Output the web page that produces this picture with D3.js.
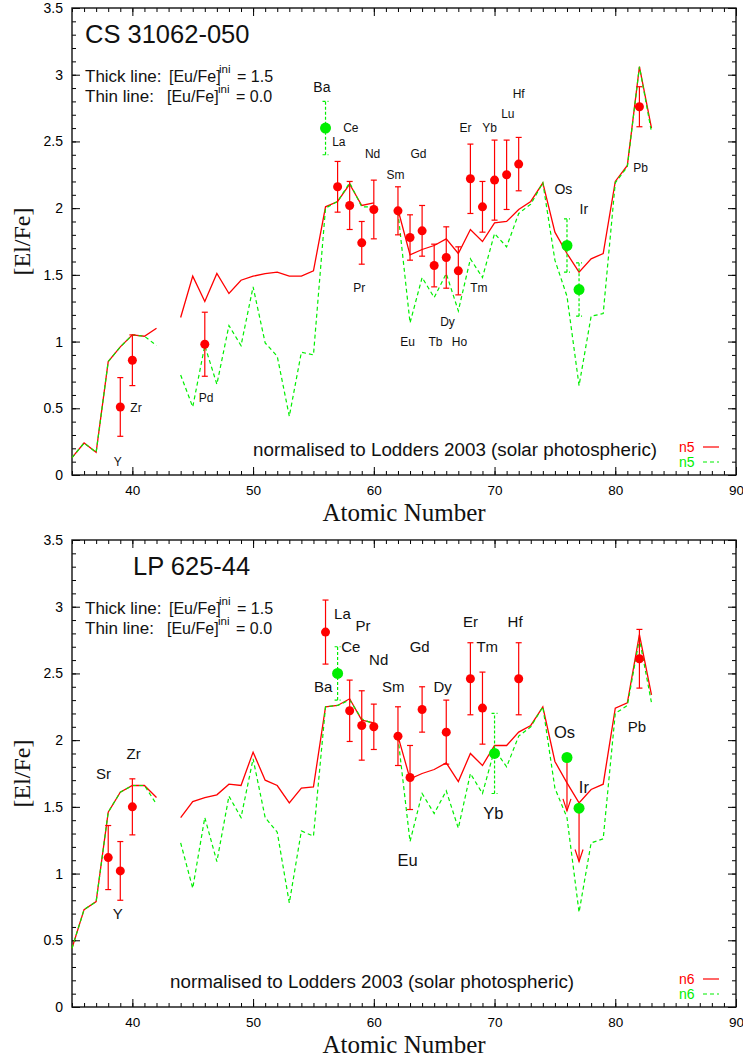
<!DOCTYPE html>
<html>
<head>
<meta charset="utf-8">
<script src="https://cdn.jsdelivr.net/npm/d3@7"></script>
<style>
  body { margin: 0; background: #fff; }
  svg { display: block; font-family: 'Liberation Sans', Arial, sans-serif; }
</style>
</head>
<body>
<svg width="743" height="1062"></svg>
<script>
// Atomic numbers of the model curves (Tc = 43 and Pm = 61 have no model value)
let modelZ = [35, 36, 37, 38, 39, 40, 41, 42, 43, 44, 45, 46, 47, 48, 49, 50, 51, 52, 53, 54, 55, 56, 57, 58, 59,
              60, 61, 62, 63, 64, 65, 66, 67, 68, 69, 70, 71, 72, 73, 74, 75, 76, 77, 78, 79, 80, 81, 82, 83];

// CS 31062-050 model, [Eu/Fe]ini = 1.5 (thick, red) and 0.0 (thin, green)
let csThick = [0.13, 0.24, 0.17, 0.85, 0.96, 1.05, 1.04, 1.10, null, 1.18, 1.49, 1.30, 1.51, 1.36, 1.46, 1.49, 1.51, 1.52, 1.49, 1.49, 1.53, 2.01, 2.05, 2.18, 2.02,
               2.04, null, 1.99, 1.65, 1.69, 1.72, 1.77, 1.66, 1.84, 1.75, 1.89, 1.90, 1.99, 2.05, 2.19, 1.82, 1.66, 1.52, 1.62, 1.66, 2.20, 2.32, 3.06, 2.60];
let csThin  = [0.13, 0.24, 0.17, 0.85, 0.96, 1.05, 1.04, 0.97, null, 0.75, 0.51, 0.97, 0.68, 1.12, 0.97, 1.41, 0.99, 0.89, 0.44, 0.92, 0.90, 2.00, 2.05, 2.19, 2.01,
               2.01, null, 1.97, 1.14, 1.48, 1.33, 1.51, 1.23, 1.62, 1.48, 1.81, 1.71, 1.96, 2.03, 2.19, 1.61, 1.34, 0.67, 1.19, 1.21, 2.19, 2.31, 3.06, 2.57];

// CS 31062-050 observations ('a' = red points, 'b' = green points)
let csObsZ     = [39, 40, 46, 56, 57, 58, 59, 60, 62, 63, 64, 65, 66, 67, 68, 69, 70, 71, 72, 76, 77, 82];
let csObsValue = [0.51, 0.86, 0.98, 2.60, 2.16, 2.02, 1.74, 1.99, 1.98, 1.78, 1.83, 1.57, 1.63, 1.53, 2.22, 2.01, 2.21, 2.25, 2.33, 1.72, 1.39, 2.76];
let csObsError = [0.22, 0.19, 0.24, 0.20, 0.19, 0.18, 0.16, 0.22, 0.18, 0.17, 0.19, 0.16, 0.23, 0.18, 0.26, 0.19, 0.30, 0.26, 0.20, 0.20, 0.20, 0.15];
let csObsSet   = ['a', 'a', 'a', 'b', 'a', 'a', 'a', 'a', 'a', 'a', 'a', 'a', 'a', 'a', 'a', 'a', 'a', 'a', 'a', 'b', 'b', 'a'];

// CS 31062-050 element labels, placed in data coordinates
let csLabel  = ['Y', 'Zr', 'Pd', 'Ba', 'La', 'Ce', 'Pr', 'Nd', 'Sm', 'Eu', 'Gd', 'Tb', 'Dy', 'Ho', 'Er', 'Tm', 'Yb', 'Lu', 'Hf', 'Os', 'Ir', 'Pb'];
let csLabelZ = [38.8, 40.3, 46.1, 55.7, 57.1, 58.1, 58.8, 59.9, 61.8, 62.8, 63.7, 65.1, 66.1, 67.1, 67.6, 68.7, 69.6, 71.1, 72.0, 75.7, 77.4, 82.1];
let csLabelV = [0.10, 0.50, 0.58, 2.91, 2.50, 2.60, 1.40, 2.41, 2.25, 1.00, 2.41, 1.00, 1.15, 1.00, 2.60, 1.40, 2.60, 2.71, 2.86, 2.14, 1.99, 2.30];

// LP 625-44 model, [Eu/Fe]ini = 1.5 (thick, red) and 0.0 (thin, green)
let lpThick = [0.44, 0.73, 0.79, 1.46, 1.61, 1.66, 1.66, 1.57, null, 1.42, 1.54, 1.57, 1.59, 1.67, 1.66, 1.91, 1.70, 1.66, 1.53, 1.64, 1.65, 2.25, 2.26, 2.31, 2.15,
               2.13, null, 2.03, 1.71, 1.75, 1.78, 1.83, 1.69, 1.90, 1.81, 1.96, 1.96, 2.06, 2.11, 2.25, 1.84, 1.68, 1.53, 1.63, 1.67, 2.24, 2.28, 2.79, 2.34];
let lpThin  = [0.44, 0.73, 0.79, 1.46, 1.61, 1.66, 1.66, 1.52, null, 1.23, 0.89, 1.42, 1.09, 1.58, 1.42, 1.86, 1.42, 1.31, 0.78, 1.32, 1.28, 2.25, 2.26, 2.30, 2.16,
               2.12, null, 2.02, 1.24, 1.60, 1.45, 1.62, 1.34, 1.75, 1.60, 1.93, 1.80, 2.03, 2.10, 2.25, 1.64, 1.42, 0.71, 1.23, 1.26, 2.20, 2.26, 2.76, 2.28];

// LP 625-44 observations (null error = upper limit)
let lpObsZ     = [38, 39, 40, 56, 57, 58, 59, 60, 62, 63, 64, 66, 68, 69, 70, 72, 76, 77, 82];
let lpObsValue = [1.12, 1.02, 1.50, 2.81, 2.50, 2.22, 2.11, 2.10, 2.03, 1.72, 2.23, 2.06, 2.46, 2.24, 1.90, 2.46, 1.87, 1.49, 2.61];
let lpObsError = [0.24, 0.22, 0.21, 0.24, 0.20, 0.23, 0.26, 0.17, 0.22, 0.24, 0.17, 0.24, 0.27, 0.27, 0.30, 0.27, null, null, 0.22];
let lpObsSet   = ['a', 'a', 'a', 'a', 'b', 'a', 'a', 'a', 'a', 'a', 'a', 'a', 'a', 'a', 'b', 'a', 'b', 'b', 'a'];

// LP 625-44 element labels
let lpLabel  = ['Sr', 'Zr', 'Y', 'La', 'Pr', 'Ce', 'Nd', 'Ba', 'Sm', 'Gd', 'Dy', 'Er', 'Tm', 'Hf', 'Yb', 'Eu', 'Os', 'Ir', 'Pb'];
let lpLabelZ = [37.6, 40.1, 38.8, 57.4, 59.1, 58.1, 60.4, 55.8, 61.6, 63.8, 65.7, 68.0, 69.4, 71.7, 69.9, 62.8, 75.8, 77.4, 81.8];
let lpLabelV = [1.75, 1.90, 0.70, 2.95, 2.86, 2.70, 2.60, 2.40, 2.40, 2.70, 2.40, 2.89, 2.70, 2.89, 1.45, 1.10, 2.06, 1.65, 2.10];

// Axis ticks
let xTicks = [40, 50, 60, 70, 80, 90];
let yTicks = [0, 0.5, 1, 1.5, 2, 2.5, 3, 3.5];

// Select the svg element
let svg = d3.select('svg');
let margin = { left: 72, right: 7 };
let width = +svg.attr('width');
let red = '#ff0000';
let green = '#00ee00';
let arrowLength = 0.4;

function drawPanel(p) {
    let g = svg.append('g');

    let x = d3.scaleLinear().domain([35, 90]).range([margin.left, width - margin.right]);
    let y = d3.scaleLinear().domain([0, 3.5]).range([p.bottom, p.top]);

    // Minor ticks on all four sides, pointing inward
    let sides = [
        { axis: d3.axisBottom, scale: x, t: 'translate(0,' + p.bottom + ')', minor: d3.range(35, 90.5, 1) },
        { axis: d3.axisTop, scale: x, t: 'translate(0,' + p.top + ')', minor: d3.range(35, 90.5, 1) },
        { axis: d3.axisLeft, scale: y, t: 'translate(' + margin.left + ',0)', minor: d3.range(0, 3.51, 0.1) },
        { axis: d3.axisRight, scale: y, t: 'translate(' + (width - margin.right) + ',0)', minor: d3.range(0, 3.51, 0.1) }
    ];
    sides.forEach(s => {
        g.append('g')
            .attr('transform', s.t)
            .call(s.axis(s.scale).tickValues(s.minor).tickSize(-4).tickFormat(''))
            .call(a => a.select('.domain').remove());
    });

    // Labelled bottom and left axes, plain major ticks on top and right
    g.append('g')
        .attr('transform', 'translate(0,' + p.bottom + ')')
        .call(d3.axisBottom(x).tickValues(xTicks).tickSize(-8).tickPadding(10))
        .call(a => a.select('.domain').remove())
        .attr('font-size', '13.5px')
        .attr('font-family', 'Liberation Sans, Arial, sans-serif');
    g.append('g')
        .attr('transform', 'translate(' + margin.left + ',0)')
        .call(d3.axisLeft(y).tickValues(yTicks).tickSize(-8).tickPadding(9).tickFormat(d3.format('')))
        .call(a => a.select('.domain').remove())
        .attr('font-size', '14px')
        .attr('font-family', 'Liberation Sans, Arial, sans-serif');
    g.append('g')
        .attr('transform', 'translate(0,' + p.top + ')')
        .call(d3.axisTop(x).tickValues(xTicks).tickSize(-8).tickFormat(''))
        .call(a => a.select('.domain').remove());
    g.append('g')
        .attr('transform', 'translate(' + (width - margin.right) + ',0)')
        .call(d3.axisRight(y).tickValues(yTicks).tickSize(-8).tickFormat(''))
        .call(a => a.select('.domain').remove());

    // Frame
    g.append('rect')
        .attr('x', margin.left)
        .attr('y', p.top)
        .attr('width', width - margin.right - margin.left)
        .attr('height', p.bottom - p.top)
        .attr('fill', 'none')
        .attr('stroke', '#111')
        .attr('stroke-width', 1.4);

    // Model curves: thick first, dashed thin on top
    let line = d3.line()
        .defined(d => d[1] != null)
        .x(d => x(d[0]))
        .y(d => y(d[1]));
    g.append('path')
        .datum(modelZ.map((z, i) => [z, p.thick[i]]))
        .attr('d', line)
        .attr('fill', 'none')
        .attr('stroke', red)
        .attr('stroke-width', 1.3);
    g.append('path')
        .datum(modelZ.map((z, i) => [z, p.thin[i]]))
        .attr('d', line)
        .attr('fill', 'none')
        .attr('stroke', green)
        .attr('stroke-width', 1.2)
        .attr('stroke-dasharray', '4,3');

    // Observations
    let obs = p.obsZ.map((z, i) => ({ z: z, v: p.obsValue[i], e: p.obsError[i], set: p.obsSet[i] }));

    // Error bars with caps
    let bars = g.selectAll('.bar').data(obs.filter(d => d.e != null)).enter().append('g')
        .attr('stroke', d => d.set === 'a' ? red : green)
        .attr('stroke-width', 1.2)
        .attr('stroke-dasharray', d => d.set === 'a' ? null : '3,2');
    bars.append('line')
        .attr('x1', d => x(d.z)).attr('x2', d => x(d.z))
        .attr('y1', d => y(d.v - d.e)).attr('y2', d => y(d.v + d.e));
    [-1, 1].forEach(s => {
        bars.append('line')
            .attr('x1', d => x(d.z) - 3).attr('x2', d => x(d.z) + 3)
            .attr('y1', d => y(d.v + s * d.e)).attr('y2', d => y(d.v + s * d.e))
            .attr('stroke-dasharray', null);
    });

    // Upper limits drawn as downward arrows
    let limits = g.selectAll('.limit').data(obs.filter(d => d.e == null)).enter().append('g')
        .attr('stroke', red)
        .attr('stroke-width', 1.2)
        .attr('fill', 'none');
    limits.append('line')
        .attr('x1', d => x(d.z)).attr('x2', d => x(d.z))
        .attr('y1', d => y(d.v)).attr('y2', d => y(d.v - arrowLength));
    limits.append('path')
        .attr('d', d => {
            let tx = x(d.z), ty = y(d.v - arrowLength);
            return 'M' + (tx - 4) + ',' + (ty - 12) + 'L' + tx + ',' + ty + 'L' + (tx + 4) + ',' + (ty - 12);
        });

    // Points
    g.selectAll('.pt').data(obs).enter().append('circle')
        .attr('cx', d => x(d.z))
        .attr('cy', d => y(d.v))
        .attr('r', d => d.set === 'a' ? 4.5 : 5.5)
        .attr('fill', d => d.set === 'a' ? red : green);

    // Element labels
    g.selectAll('.lbl').data(p.label).enter().append('text')
        .attr('x', (d, i) => x(p.labelZ[i]))
        .attr('y', (d, i) => y(p.labelV[i]))
        .attr('dy', '0.35em')
        .attr('text-anchor', 'middle')
        .attr('font-size', d => p.big.includes(d) ? p.bigSize : p.labelSize)
        .attr('fill', '#111')
        .text(d => d);

    // Star name
    g.append('text')
        .attr('x', p.titleX)
        .attr('y', p.top + 35)
        .attr('font-size', '25.5px')
        .attr('fill', '#111')
        .text(p.star);

    // Thick / thin line notes
    [['Thick line:', '= 1.5', 169, 219, 237], ['Thin line:', '= 0.0', 167, 218, 236]].forEach((n, k) => {
        let base = p.top + 74 + k * 19.5;
        let t = g.append('text').attr('font-size', '16px').attr('fill', '#111');
        t.append('tspan').attr('x', 85).attr('y', base).attr('font-size', '17px').text(n[0]);
        t.append('tspan').attr('x', n[2]).attr('y', base).text('[Eu/Fe]');
        g.append('text')
            .attr('x', n[3]).attr('y', base - 9)
            .attr('font-size', '11.5px').attr('fill', '#111')
            .text('ini');
        t.append('tspan').attr('x', n[4]).attr('y', base).text(n[1]);
    });

    // Normalisation note
    g.append('text')
        .attr('x', p.noteX)
        .attr('y', p.bottom - 19)
        .attr('font-size', '18.8px')
        .attr('fill', '#111')
        .text('normalised to Lodders 2003 (solar photospheric)');

    // Legend
    [[red, null], [green, '4,3']].forEach((c, k) => {
        let ly = p.bottom - 28 + k * 15;
        g.append('text')
            .attr('x', 679)
            .attr('y', ly + 5)
            .attr('font-size', '14px')
            .attr('fill', c[0])
            .text(p.legend);
        g.append('line')
            .attr('x1', 703).attr('x2', 719)
            .attr('y1', ly).attr('y2', ly)
            .attr('stroke', c[0])
            .attr('stroke-width', 1.2)
            .attr('stroke-dasharray', c[1]);
    });

    // Axis titles
    g.append('text')
        .attr('text-anchor', 'middle')
        .attr('transform', 'translate(30,' + ((p.top + p.bottom) / 2) + ')rotate(-90)')
        .attr('font-family', 'Liberation Serif, Times New Roman, serif')
        .attr('font-size', '24px')
        .attr('fill', '#111')
        .text('[El/Fe]');
    g.append('text')
        .attr('text-anchor', 'middle')
        .attr('x', 404)
        .attr('y', p.bottom + 46)
        .attr('font-family', 'Liberation Serif, Times New Roman, serif')
        .attr('font-size', '25px')
        .attr('fill', '#111')
        .text('Atomic Number');
}

drawPanel({
    top: 8, bottom: 475, star: 'CS 31062-050', titleX: 85, noteX: 253, legend: 'n5',
    thick: csThick, thin: csThin,
    obsZ: csObsZ, obsValue: csObsValue, obsError: csObsError, obsSet: csObsSet,
    label: csLabel, labelZ: csLabelZ, labelV: csLabelV,
    labelSize: '12px', big: ['Ba', 'Os', 'Ir'], bigSize: '14px'
});

drawPanel({
    top: 540, bottom: 1007, star: 'LP 625-44', titleX: 133, noteX: 170, legend: 'n6',
    thick: lpThick, thin: lpThin,
    obsZ: lpObsZ, obsValue: lpObsValue, obsError: lpObsError, obsSet: lpObsSet,
    label: lpLabel, labelZ: lpLabelZ, labelV: lpLabelV,
    labelSize: '15px', big: ['Eu', 'Yb', 'Os', 'Ir'], bigSize: '16.5px'
});
</script>
</body>
</html>
